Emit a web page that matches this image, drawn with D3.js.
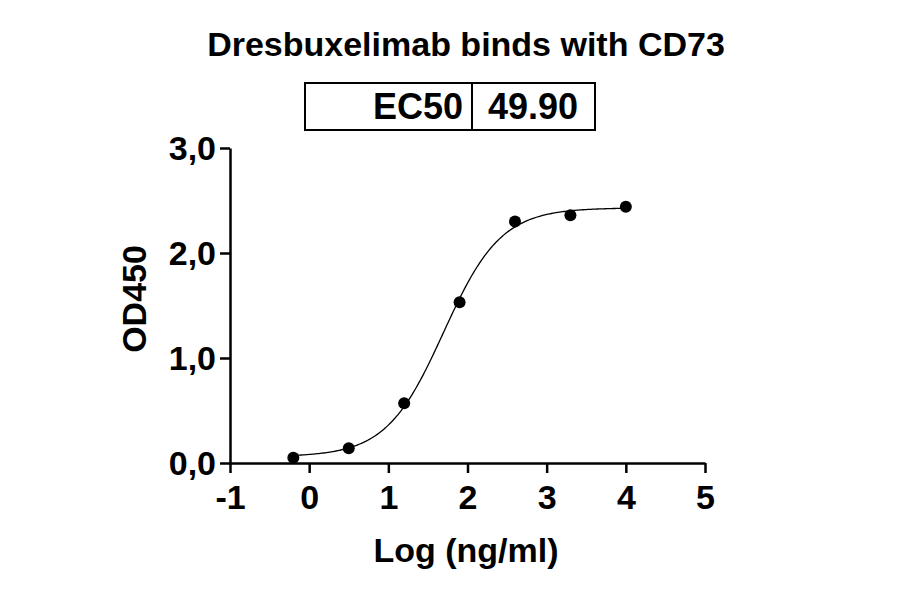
<!DOCTYPE html>
<html><head><meta charset="utf-8">
<script src="https://cdn.jsdelivr.net/npm/d3@7"></script>
<style>body{margin:0;background:#fff}text{font-family:"Liberation Sans",Arial,sans-serif;font-weight:bold}</style>
</head><body><svg id="c" width="900" height="594"></svg>
<script>
// measured points
const logConc = [-0.2, 0.5, 1.2, 1.9, 2.6, 3.3, 4.0];
const od450 = [0.05, 0.14, 0.57, 1.53, 2.30, 2.36, 2.44];
const xTicks = [-1, 0, 1, 2, 3, 4, 5];
const yTicks = [0, 1, 2, 3];
// 4PL fit parameters
const fitBottom = 0.06, fitTop = 2.43, fitHill = 1.2, ec50 = 49.90;

const svg = d3.select("#c");
const x = d3.scaleLinear().domain([-1, 5]).range([230, 705]);
const y = d3.scaleLinear().domain([0, 3]).range([463, 148]);

svg.append("text").attr("x", 466).attr("y", 56).attr("text-anchor", "middle")
  .attr("font-size", 34).text("Dresbuxelimab binds with CD73");

// EC50 box
const box = svg.append("g");
box.append("rect").attr("x", 305).attr("y", 83).attr("width", 290).attr("height", 47)
  .attr("fill", "none").attr("stroke", "#000").attr("stroke-width", 2);
box.append("line").attr("x1", 472).attr("x2", 472).attr("y1", 83).attr("y2", 130)
  .attr("stroke", "#000").attr("stroke-width", 2);
box.append("text").attr("x", 463).attr("y", 119).attr("text-anchor", "end")
  .attr("font-size", 36).text("EC50");
box.append("text").attr("x", 533).attr("y", 119).attr("text-anchor", "middle")
  .attr("font-size", 36).text(ec50.toFixed(2));

const xa = svg.append("g").attr("transform", "translate(0,463)")
  .call(d3.axisBottom(x).tickValues(xTicks).tickSize(10).tickSizeOuter(0).tickFormat(d => String(d)));
const ya = svg.append("g").attr("transform", "translate(230,0)")
  .call(d3.axisLeft(y).tickValues(yTicks).tickSize(10).tickSizeOuter(0).tickFormat(d => d.toFixed(1).replace(".", ",")));
[xa, ya].forEach(a => {
  a.selectAll("path,line").attr("stroke", "#000").attr("stroke-width", 2.5);
  a.selectAll("text").attr("font-size", 34).attr("fill", "#000")
    .style("font-family", '"Liberation Sans",Arial,sans-serif').style("font-weight", "bold");
});
xa.selectAll("text").attr("y", 14).attr("dy", "0.95em");
ya.selectAll("text").attr("x", -14).attr("dy", "0.35em");

svg.append("text").attr("x", 466).attr("y", 562).attr("text-anchor", "middle")
  .attr("font-size", 34).text("Log (ng/ml)");
svg.append("text").attr("transform", "translate(146,299) rotate(-90)").attr("text-anchor", "middle")
  .attr("font-size", 34).text("OD450");

const logEc = Math.log10(ec50);
const fit = v => fitBottom + (fitTop - fitBottom) / (1 + Math.pow(10, (logEc - v) * fitHill));
const curveX = d3.range(-0.2, 4.001, 0.02);
svg.append("path").datum(curveX)
  .attr("d", d3.line().x(d => x(d)).y(d => y(fit(d))))
  .attr("fill", "none").attr("stroke", "#000").attr("stroke-width", 1.3);

svg.selectAll("circle.p").data(logConc).enter().append("circle")
  .attr("cx", d => x(d)).attr("cy", (d, i) => y(od450[i])).attr("r", 6).attr("fill", "#000");
</script></body></html>
